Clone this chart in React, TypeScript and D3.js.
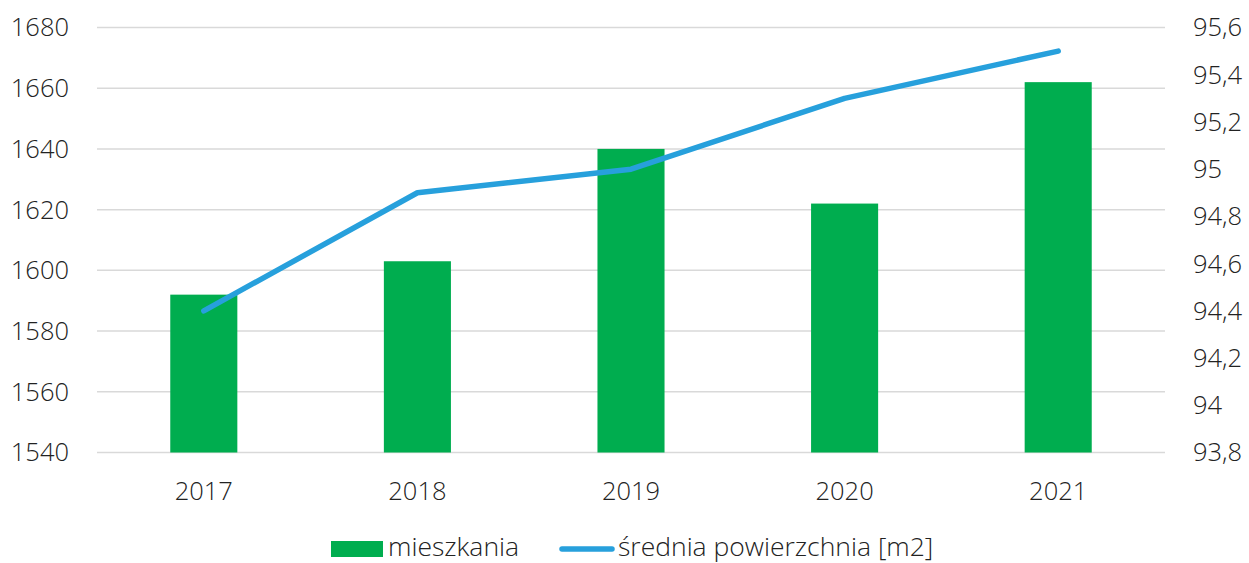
import React from 'react';
import * as d3 from 'd3';

const years = ['2017', '2018', '2019', '2020', '2021'];
const mieszkania = [1592, 1603, 1640, 1622, 1662];
const powierzchnia = [94.4, 94.9, 95.0, 95.3, 95.5];
const leftTicks = [1540, 1560, 1580, 1600, 1620, 1640, 1660, 1680];
const rightTicks = [93.8, 94, 94.2, 94.4, 94.6, 94.8, 95, 95.2, 95.4, 95.6];

const W = 1249;
const H = 563;
const plot = { left: 97, right: 1165, top: 27.5, bottom: 452.5 };
const font = '"Open Sans", "Segoe UI", sans-serif';
const green = '#00ad4f';
const blue = '#27a0dc';
const fs = 25.5;
const textColor = '#222';

const fmt = (v: number) => String(v).replace('.', ',');

export default function App() {
  const x = d3.scaleBand<string>()
    .domain(years)
    .range([plot.left, plot.right])
    .paddingInner(0.686)
    .paddingOuter(0.343);

  const yL = d3.scaleLinear().domain([1540, 1680]).range([plot.bottom, plot.top]);
  const yR = d3.scaleLinear().domain([93.8, 95.6]).range([plot.bottom, plot.top]);

  const line = d3.line<number>()
    .x((_, i) => (x(years[i]) as number) + x.bandwidth() / 2)
    .y(d => yR(d));

  return (
    <svg width={W} height={H} style={{ position: 'absolute', left: 0, top: 0, fontFamily: font, fontWeight: 300 }}>
      <rect width={W} height={H} fill="#fff" />
      {/* gridlines */}
      {leftTicks.map(t => (
        <line key={t} x1={plot.left} x2={plot.right} y1={yL(t)} y2={yL(t)} stroke="#d9d9d9" strokeWidth={1.5} />
      ))}
      {/* bars */}
      {mieszkania.map((v, i) => (
        <rect
          key={years[i]}
          x={x(years[i])}
          width={x.bandwidth()}
          y={yL(v)}
          height={yL(1540) - yL(v)}
          fill={green}
        />
      ))}
      {/* line */}
      <path d={line(powierzchnia) || ''} fill="none" stroke={blue} strokeWidth={5.5} strokeLinecap="round" strokeLinejoin="round" />
      {/* left axis */}
      {leftTicks.map(t => (
        <text key={t} x={69} y={yL(t)} dy="0.35em" textAnchor="end" fontSize={fs} fill={textColor}>{t}</text>
      ))}
      {/* right axis */}
      {rightTicks.map(t => (
        <text key={t} x={1193} y={yR(t)} dy="0.35em" textAnchor="start" fontSize={fs} fill={textColor}>{fmt(t)}</text>
      ))}
      {/* x axis labels */}
      {years.map(yr => (
        <text key={yr} x={(x(yr) as number) + x.bandwidth() / 2} y={491.5} dy="0.35em" textAnchor="middle" fontSize={fs} fill={textColor}>{yr}</text>
      ))}
      {/* legend */}
      <rect x={331} y={541} width={52} height={16} fill={green} />
      <text x={388} y={547} dy="0.35em" fontSize={26.5} fill={textColor}>mieszkania</text>
      <line x1={562} x2={612} y1={549} y2={549} stroke={blue} strokeWidth={5.5} strokeLinecap="round" />
      <text x={618} y={547} dy="0.35em" fontSize={26.5} fill={textColor}>średnia powierzchnia [m2]</text>
    </svg>
  );
}
